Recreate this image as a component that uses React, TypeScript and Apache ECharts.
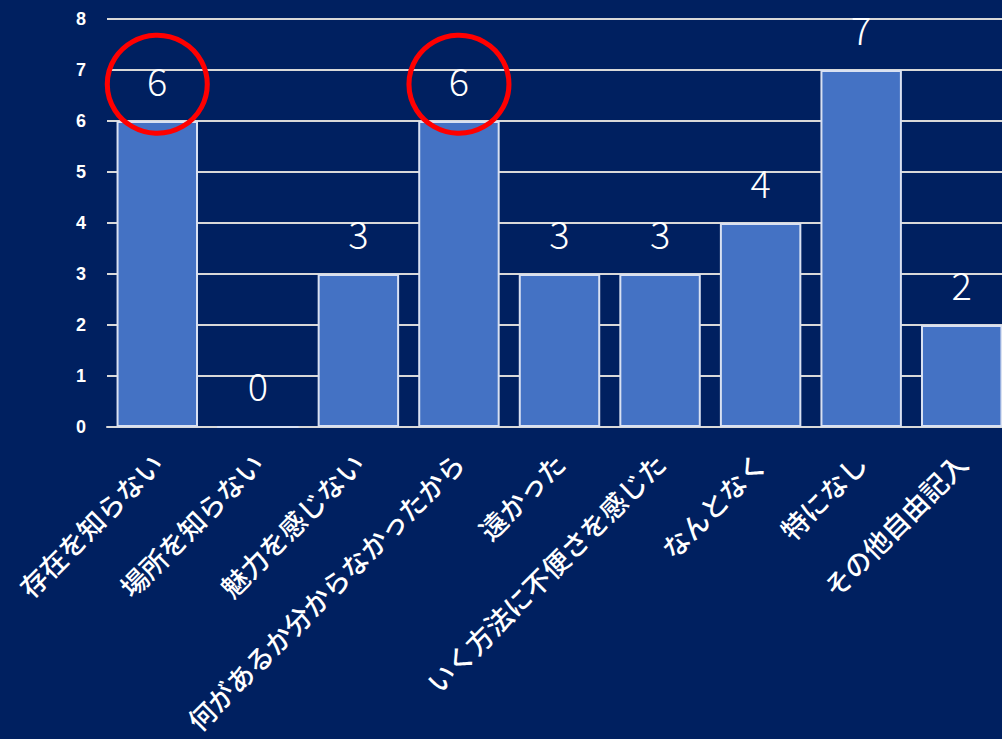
import React, { useEffect, useRef } from "react";
import * as echarts from "echarts";

const categories = [
  "存在を知らない",
  "場所を知らない",
  "魅力を感じない",
  "何があるか分からなかったから",
  "遠かった",
  "いく方法に不便さを感じた",
  "なんとなく",
  "特になし",
  "その他自由記入",
];
const values = [6, 0, 3, 6, 3, 3, 4, 7, 2];
const highlighted = [
  { name: "存在を知らない", y: 6.72 },
  { name: "何があるか分からなかったから", y: 6.72 },
];
const yTicks = [0, 1, 2, 3, 4, 5, 6, 7, 8];

export default function App() {
  const ref = useRef<HTMLDivElement>(null);
  useEffect(() => {
    if (!ref.current) return;
    const chart = echarts.init(ref.current, null, { renderer: "svg" });
    chart.setOption({
      animation: false,
      backgroundColor: "#002060",
      grid: { left: 107, right: 0, top: 19, bottom: 312, containLabel: false },
      xAxis: {
        type: "category",
        data: categories,
        axisTick: { show: false },
        axisLine: { lineStyle: { color: "#D9D9D9", width: 2 } },
        axisLabel: {
          rotate: 45,
          interval: 0,
          color: "#FFFFFF",
          fontSize: 27,
          fontWeight: 500,
          fontFamily: "Noto Sans CJK JP",
          margin: 31,
        },
      },
      yAxis: {
        type: "value",
        min: yTicks[0],
        max: yTicks[yTicks.length - 1],
        interval: 1,
        axisLine: { show: false },
        axisTick: { show: false },
        splitLine: { lineStyle: { color: "#D9D9D9", width: 2 } },
        axisLabel: {
          color: "#FFFFFF",
          fontSize: 18,
          fontWeight: "bold",
          fontFamily: "Liberation Sans",
          margin: 21,
        },
      },
      series: [
        {
          type: "bar",
          data: values,
          barCategoryGap: "19%",
          itemStyle: { color: "#4472C4", borderColor: "#D9E1F2", borderWidth: 2 },
          label: {
            show: true,
            position: "top",
            distance: 23,
            color: "#FFFFFF",
            fontSize: 38,
            fontFamily: "Noto Sans CJK JP",
            fontWeight: 300,
          },
          markPoint: {
            symbol: "circle",
            symbolSize: [100, 98],
            silent: true,
            label: { show: false },
            itemStyle: { color: "rgba(0,0,0,0)", borderColor: "#FF0000", borderWidth: 5 },
            data: highlighted.map((h) => ({ coord: [h.name, h.y] })),
          },
        },
      ],
    });
    return () => chart.dispose();
  }, []);
  return (
    <div
      style={{
        position: "fixed",
        left: 0,
        top: 0,
        width: 1002,
        height: 739,
        overflow: "hidden",
        background: "#002060",
      }}
    >
      <div ref={ref} style={{ width: 1012, height: 739 }} />
    </div>
  );
}
